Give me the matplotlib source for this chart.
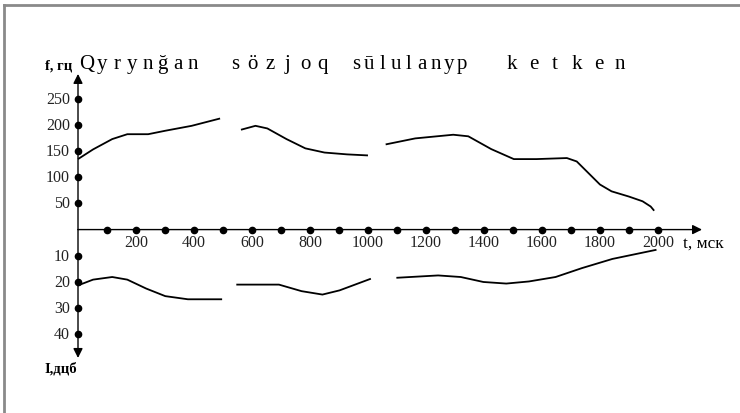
import numpy as np
import matplotlib
matplotlib.use('Agg')
import matplotlib.pyplot as plt
from matplotlib.lines import Line2D

plt.rcParams['font.family'] = ['Liberation Serif', 'DejaVu Serif']

# Upper curve: pitch f (Hz) against time t (ms), three pieces
f_t1 = [0, 52, 118, 170, 242, 301, 392, 490]
f_v1 = [134.5, 153, 172.7, 182, 182, 188.6, 198, 212]
f_t2 = [562, 612, 653, 719, 784, 850, 928, 1000]
f_v2 = [190.5, 198, 193, 172.7, 155, 147, 143.5, 141.5]
f_t3 = [1061, 1163, 1294, 1346, 1425, 1503, 1581, 1686, 1720, 1760, 1800, 1840, 1900, 1947, 1975, 1987]
f_v3 = [162.5, 174, 181, 178, 153.6, 134.5, 134.5, 136.5, 130, 108, 86, 73, 63, 54, 44, 36]

# Lower curve: intensity I (dB) against time t (ms), three pieces
i_t1 = [0, 52, 118, 170, 235, 301, 379, 497]
i_v1 = [21.3, 19.1, 18.1, 19.1, 22.5, 25.4, 26.6, 26.6]
i_t2 = [546, 693, 771, 843, 902, 1010]
i_v2 = [21.0, 21.0, 23.5, 24.8, 23.2, 18.75]
i_t3 = [1098, 1242, 1320, 1398, 1477, 1555, 1647, 1738, 1843, 1995]
i_v3 = [18.4, 17.5, 18.1, 20.0, 20.6, 19.8, 18.1, 14.7, 11.2, 7.7]

t_ticks = [200, 400, 600, 800, 1000, 1200, 1400, 1600, 1800, 2000]
t_dots = list(range(100, 2001, 100))
f_ticks = [50, 100, 150, 200, 250]
i_ticks = [10, 20, 30, 40]

title_words = ['Qyryngan'.replace('g', 'ğ'), 'sözjoq', 'sūlulanyp', 'ketken']

HZ_PER_DB = 5.0  # the lower half is drawn on the same scale, 10 dB = 50 Hz


def px_to_t(x):
    # horizontal pixel of the picture -> ms
    return (x - 78) / 0.29


fig = plt.figure(figsize=(7.4, 4.14), dpi=100)
ax = fig.add_axes([0, 0, 1, 1])
ax.set_xlim(-269, 2283)
ax.set_ylim(-350, 440)
ax.axis('off')

# frame of the picture
fig.add_artist(Line2D([0.006, 1.0], [0.986, 0.986], color='#8a8a8a', lw=2))
fig.add_artist(Line2D([0.006, 0.006], [0.0, 0.986], color='#8a8a8a', lw=2))

# axes with arrows
arrow = dict(arrowstyle='-|>', color='black', lw=1.0, mutation_scale=14, shrinkA=0, shrinkB=0)
ax.annotate('', xy=(2152, 0), xytext=(0, 0), arrowprops=arrow)
ax.annotate('', xy=(0, 297), xytext=(0, 0), arrowprops=arrow)
ax.annotate('', xy=(0, -49 * HZ_PER_DB), xytext=(0, 0), arrowprops=arrow)

# dots
ax.plot(t_dots, [0] * len(t_dots), 'o', color='black', ms=4.5)
ax.plot([0] * len(f_ticks), f_ticks, 'o', color='black', ms=4.5)
ax.plot([0] * len(i_ticks), [-v * HZ_PER_DB for v in i_ticks], 'o', color='black', ms=4.5)

# tick labels
for t in t_ticks:
    ax.text(t, -24, str(t), ha='center', va='center', fontsize=11.5, color='#222222')
for f in f_ticks:
    ax.text(-28, f, str(f), ha='right', va='center', fontsize=11.5, color='#222222')
for v in i_ticks:
    ax.text(-28, -v * HZ_PER_DB, str(v), ha='right', va='center', fontsize=11.5, color='#222222')

ax.text(-115, 315, 'f, гц', ha='left', va='center', fontsize=10.5, fontweight='bold')
ax.text(-115, -263, 'I,дцб', ha='left', va='center', fontsize=10.5, fontweight='bold')
ax.text(px_to_t(683), -24, 't, мск', ha='left', va='center', fontsize=12.5)

# spaced-out title, letters spread evenly over each word's span (pixels)
spans = [(87, 193), (235, 323), (356, 462), (512, 620)]
for word, (a, b) in zip(title_words, spans):
    n = len(word)
    for i, ch in enumerate(word):
        x = a + (b - a) * i / (n - 1)
        ax.text(px_to_t(x), 308, ch, ha='center', va='baseline', fontsize=15)

# curves
for tt, vv in [(f_t1, f_v1), (f_t2, f_v2), (f_t3, f_v3)]:
    ax.plot(tt, vv, color='black', lw=1.3, solid_capstyle='butt', solid_joinstyle='round')
for tt, vv in [(i_t1, i_v1), (i_t2, i_v2), (i_t3, i_v3)]:
    ax.plot(tt, [-v * HZ_PER_DB for v in vv], color='black', lw=1.3, solid_capstyle='butt', solid_joinstyle='round')

fig.savefig('out.png', dpi=100)
